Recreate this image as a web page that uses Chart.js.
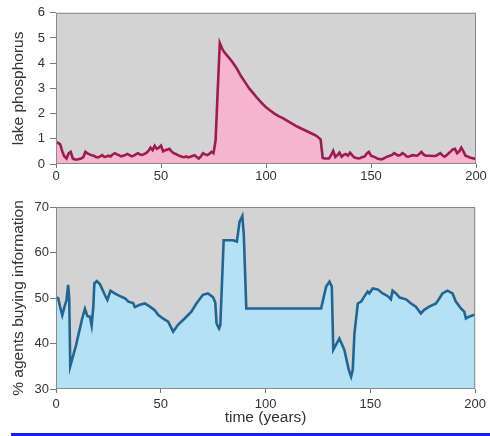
<!DOCTYPE html>
<html>
<head>
<meta charset="utf-8">
<script src="https://cdn.jsdelivr.net/npm/chart.js@4"></script>
<style>
  body { margin: 0; background: #fff; }
  #wrap { position: relative; width: 490px; height: 436px; overflow: hidden; }
  #topBox { position: absolute; left: 0; top: 0; width: 490px; height: 190px; }
  #botBox { position: absolute; left: 0; top: 190px; width: 490px; height: 246px; }
  #rule { position: absolute; left: 11px; top: 433px; width: 479px; height: 3px; background: #1a1aff; }
</style>
</head>
<body>
<div id="wrap">
  <div id="topBox"><canvas id="phosChart"></canvas></div>
  <div id="botBox"><canvas id="infoChart"></canvas></div>
  <div id="rule"></div>
</div>
<script>
// lake phosphorus (top panel)
const phosYears = [0,1,2,3,4,5,6,7,8,9,10,11,12,13,14,15,16,17,18,19,20,21,22,23,24,25,26,27,28,29,30,31,32,33,34,35,36,37,38,39,40,41,42,43,44,45,46,47,48,49,50,51,52,53,54,55,56,57,58,59,60,61,62,63,64,65,66,67,68,69,70,71,72,73,74,75,76,77,78,79,80,82,84,86,88,90,92,94,96,98,100,102,104,106,108,110,112,114,116,118,120,122,124,126,127,128,130,131,132,133,134,135,136,137,138,139,140,141,142,143,144,145,146,147,148,149,150,151,152,153,154,155,156,157,158,159,160,161,162,163,164,165,166,167,168,169,170,171,172,173,174,175,176,178,180,181,182,183,184,185,186,187,188,189,190,191,192,193,194,195,196,197,198,199,200];
const phosValues = [0.85,0.84,0.78,0.5,0.3,0.22,0.42,0.48,0.22,0.18,0.18,0.2,0.22,0.27,0.48,0.42,0.38,0.35,0.33,0.28,0.26,0.3,0.35,0.28,0.3,0.33,0.3,0.38,0.43,0.38,0.35,0.3,0.33,0.36,0.4,0.35,0.3,0.33,0.38,0.43,0.38,0.36,0.39,0.44,0.52,0.65,0.55,0.72,0.6,0.65,0.73,0.5,0.55,0.57,0.6,0.5,0.43,0.4,0.35,0.32,0.29,0.27,0.3,0.26,0.29,0.32,0.35,0.28,0.22,0.3,0.43,0.38,0.35,0.4,0.48,0.43,0.94,2.9,4.8,4.6,4.45,4.25,4.05,3.8,3.5,3.25,3.0,2.8,2.6,2.42,2.25,2.12,2.0,1.9,1.82,1.72,1.62,1.52,1.44,1.36,1.28,1.2,1.12,0.98,0.24,0.22,0.22,0.35,0.52,0.28,0.35,0.45,0.29,0.36,0.4,0.33,0.45,0.35,0.26,0.24,0.22,0.24,0.28,0.3,0.42,0.48,0.33,0.3,0.26,0.22,0.2,0.18,0.22,0.26,0.3,0.33,0.36,0.43,0.38,0.33,0.36,0.43,0.38,0.3,0.29,0.33,0.35,0.34,0.33,0.4,0.48,0.38,0.33,0.33,0.32,0.33,0.38,0.43,0.35,0.29,0.35,0.43,0.5,0.58,0.6,0.43,0.5,0.65,0.5,0.33,0.3,0.26,0.24,0.22,0.2];

// % agents buying information (bottom panel)
const infoYears = [0,1,2,3,4,5,5.8,6.3,6.8,8,9.5,11,12.5,13.8,15,16.2,17,17.8,18.3,19.5,21,22.5,23.5,24.5,26,28,30.5,33,34.5,36.8,37.6,40,42.4,44.8,47.1,48.7,51,53.5,55.9,58.2,61.4,64.6,67,70.1,72.5,74.9,76,76.6,77.8,78.4,80,84.4,86.3,87.6,88.9,89.6,90.8,126.5,128.9,130.5,131.6,132.3,135.2,137.6,139.7,140.8,141.6,142.4,144,145.6,147.1,148.7,149.5,151.1,153.5,155.9,158.3,159.8,160.6,162.2,164,167,169.4,171.7,174.1,175.7,178.1,181.3,182.9,184.4,186.8,189.2,190.8,193.2,194.8,195.6,197.1,199.5,200];
const infoValues = [50.1,50,48,46.2,48,49.5,52.9,50,35,37,39.5,42.5,45.5,47.6,46,45.9,44,48,53.2,53.7,53,51.5,50.5,49.6,51.6,51,50.4,49.9,49.2,48.9,48,48.5,48.8,48.1,47.3,46.3,45.5,44.8,42.6,44.1,45.5,47,48.8,50.7,51,50.2,49,44.4,43.3,44,62.7,62.7,62.4,66.8,68,64,47.7,47.7,52.5,53.6,52.5,38.6,41.1,38.6,34.2,32.7,34.2,42.2,48.8,49.2,50.3,51.4,51,52.1,51.9,51,50.4,49.7,51.6,51,50.1,49.7,48.8,48.1,46.6,47.4,48.1,48.8,49.9,51,51.6,51,49.2,47.7,47,45.5,45.9,46.3,46.3];

const xTicks = [0, 50, 100, 150, 200];

const FONT = '"Liberation Sans", Arial, sans-serif';

// grey plot area + thin frame
const framePlugin = {
  id: 'frame',
  beforeDraw(chart) {
    const { ctx, chartArea: a } = chart;
    ctx.save();
    ctx.fillStyle = '#d3d3d3';
    ctx.fillRect(a.left, a.top, a.width, a.height);
    ctx.restore();
  },
  afterDraw(chart) {
    const { ctx, chartArea: a } = chart;
    ctx.save();
    ctx.strokeStyle = '#8a8a8a';
    ctx.lineWidth = 1;
    ctx.strokeRect(a.left + 0.5, a.top + 0.5, a.width - 1, a.height - 1);
    ctx.restore();
  }
};

function makePanel(id, xs, ys, opts) {
  const ctx = document.getElementById(id).getContext('2d');
  return new Chart(ctx, {
    type: 'line',
    data: {
      datasets: [{
        data: xs.map((x, i) => ({ x: x, y: ys[i] })),
        borderColor: opts.line,
        backgroundColor: opts.fill,
        borderWidth: 2.6,
        fill: 'start',
        tension: 0,
        pointRadius: 0
      }]
    },
    options: {
      responsive: true,
      maintainAspectRatio: false,
      animation: false,
      layout: { padding: { left: 0, right: 14, top: opts.top, bottom: 0 } },
      plugins: { legend: { display: false }, tooltip: { enabled: false } },
      scales: {
        x: {
          type: 'linear',
          min: 0,
          max: 200,
          afterBuildTicks(axis) { axis.ticks = xTicks.map(v => ({ value: v })); },
          afterFit(axis) { axis.height = opts.xHeight; },
          border: { display: false },
          grid: { drawOnChartArea: false, tickLength: 4, color: '#777' },
          ticks: { font: { family: FONT, size: 13 }, color: '#333', padding: opts.xPad, maxRotation: 0 },
          title: {
            display: !!opts.xTitle,
            text: opts.xTitle || '',
            font: { family: FONT, size: 15.5 },
            color: '#333',
            padding: { top: 0, bottom: 8.7 }
          }
        },
        y: {
          min: opts.yMin,
          max: opts.yMax,
          afterBuildTicks(axis) { axis.ticks = opts.yTicks.map(v => ({ value: v })); },
          afterFit(axis) { axis.width = 56; },
          border: { display: false },
          grid: { drawOnChartArea: false, tickLength: 6, color: '#777' },
          ticks: { font: { family: FONT, size: 13 }, color: '#333', padding: opts.yPad },
          title: {
            display: true,
            text: opts.yTitle,
            font: { family: FONT, size: 15.5 },
            color: '#333',
            padding: { top: 9.7, bottom: 0 }
          }
        }
      }
    },
    plugins: [framePlugin]
  });
}

makePanel('phosChart', phosYears, phosValues, {
  line: '#9c1c52',
  fill: '#f5b5cd',
  top: 11,
  xHeight: 26,
  xPad: 1,
  yPad: 5,
  yMin: 0,
  yMax: 6,
  yTicks: [0, 1, 2, 3, 4, 5, 6],
  yTitle: 'lake phosphorus'
});

makePanel('infoChart', infoYears, infoValues, {
  line: '#1f6694',
  fill: '#b5e1f5',
  top: 17,
  xHeight: 47,
  xPad: 4,
  yPad: 1,
  yMin: 30,
  yMax: 70,
  yTicks: [30, 40, 50, 60, 70],
  yTitle: '% agents buying information',
  xTitle: 'time (years)'
});
</script>
</body>
</html>
